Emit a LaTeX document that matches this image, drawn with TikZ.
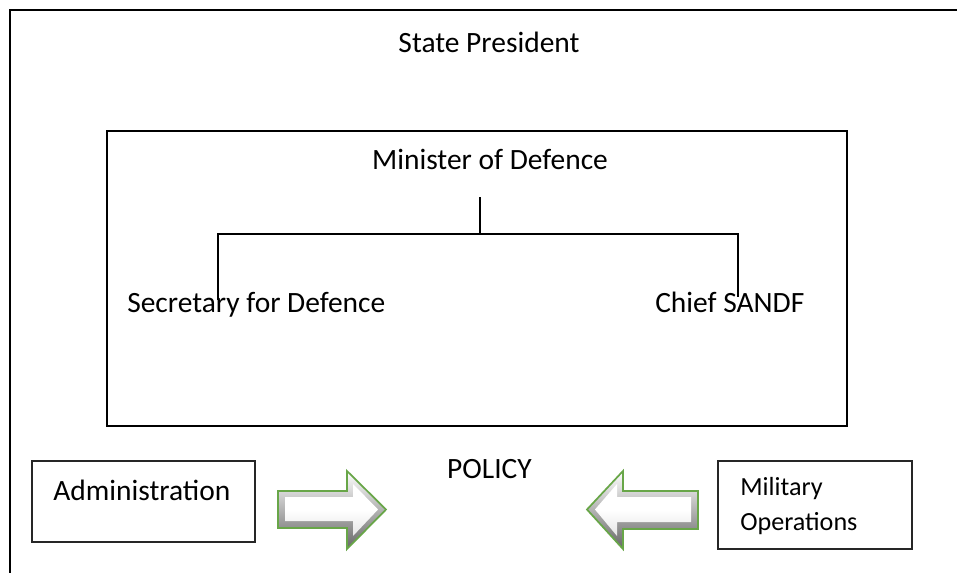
\documentclass[tikz,border=0pt]{standalone}
\usepackage{fontspec}
\setmainfont{Carlito}
\begin{document}
\begin{tikzpicture}[x=0.75pt,y=-0.75pt,
  lbl/.style={inner sep=0pt,font=\fontsize{22.1}{26}\selectfont},
  smalllbl/.style={inner sep=0pt,align=left,font=\fontsize{19.6}{26}\selectfont},
  frame/.style={draw=black,line width=2.2pt},
  panel/.style={draw=black,line width=1.6pt},
  unitbox/.style={draw=black!85,line width=1.1pt},
  tree/.style={draw=black,line width=1.7pt},
  arrowedge/.style={draw={rgb,255:red,104;green,166;blue,72},line width=1.3pt,line join=miter},
]
\useasboundingbox (0,0) rectangle (957,572);
\clip (0,0) rectangle (957,572);
\fill[white] (0,0) rectangle (957,572);

% outer frame (State President), running past the page edge
\draw[frame] (10,10) rectangle (1000,620);
% inner frame (Minister of Defence)
\draw[panel] (107,131) rectangle (847,426);

% texts
\node[lbl,anchor=base] (sp) at (489,52) {State President};
\node[lbl,anchor=base] (mod) at (490,169) {Minister of Defence};
\node[lbl,anchor=base west] (sec) at (127,312) {Secretary for Defence};
\node[lbl,anchor=base west] (csandf) at (655,312) {Chief SANDF};
\node[lbl,anchor=base] (policy) at (489.5,478) {POLICY};

% unit boxes
\draw[unitbox] (32,461) rectangle (255,542);
\node[lbl,anchor=base west] (adm) at (53,500) {Administration};
\draw[unitbox] (718,461) rectangle (912,549);
\node[smalllbl,anchor=base west] (mil) at (740,530) {Military\\Operations};

% reporting lines
\coordinate (top) at (480,197);
\coordinate (junc) at (480,234);
\coordinate (lj) at (218,234);
\coordinate (rj) at (738,234);
\coordinate (lend) at (218,300);
\coordinate (rend) at (738,297);
\draw[tree] (top) -- (junc);
\draw[tree] (lend) -- (lj) -- (rj) -- (rend);

% bevelled block arrows towards POLICY
\newcommand{\rarrowpath}{(278,491) -- (347,491) -- (347,471) -- (386,509.5) -- (347,549) -- (347,528) -- (278,528) -- cycle}
\newcommand{\rarrowinner}{(285,497) -- (353,497) -- (353,484) -- (378,509.5) -- (353,536) -- (353,521) -- (285,521) -- cycle}
\newcommand{\larrowpath}{(698,491) -- (623,491) -- (623,471) -- (587,509.5) -- (623,549) -- (623,529) -- (698,529) -- cycle}
\newcommand{\larrowinner}{(691,497) -- (617,497) -- (617,484) -- (595,509.5) -- (617,536) -- (617,522) -- (691,522) -- cycle}

\shade[top color=white,bottom color=black!60] \rarrowpath;
\shade[top color=white,bottom color=black!10,middle color=white] \rarrowinner;
\draw[arrowedge] \rarrowpath;

\shade[top color=white,bottom color=black!60] \larrowpath;
\shade[top color=white,bottom color=black!10,middle color=white] \larrowinner;
\draw[arrowedge] \larrowpath;
\end{tikzpicture}
\end{document}
